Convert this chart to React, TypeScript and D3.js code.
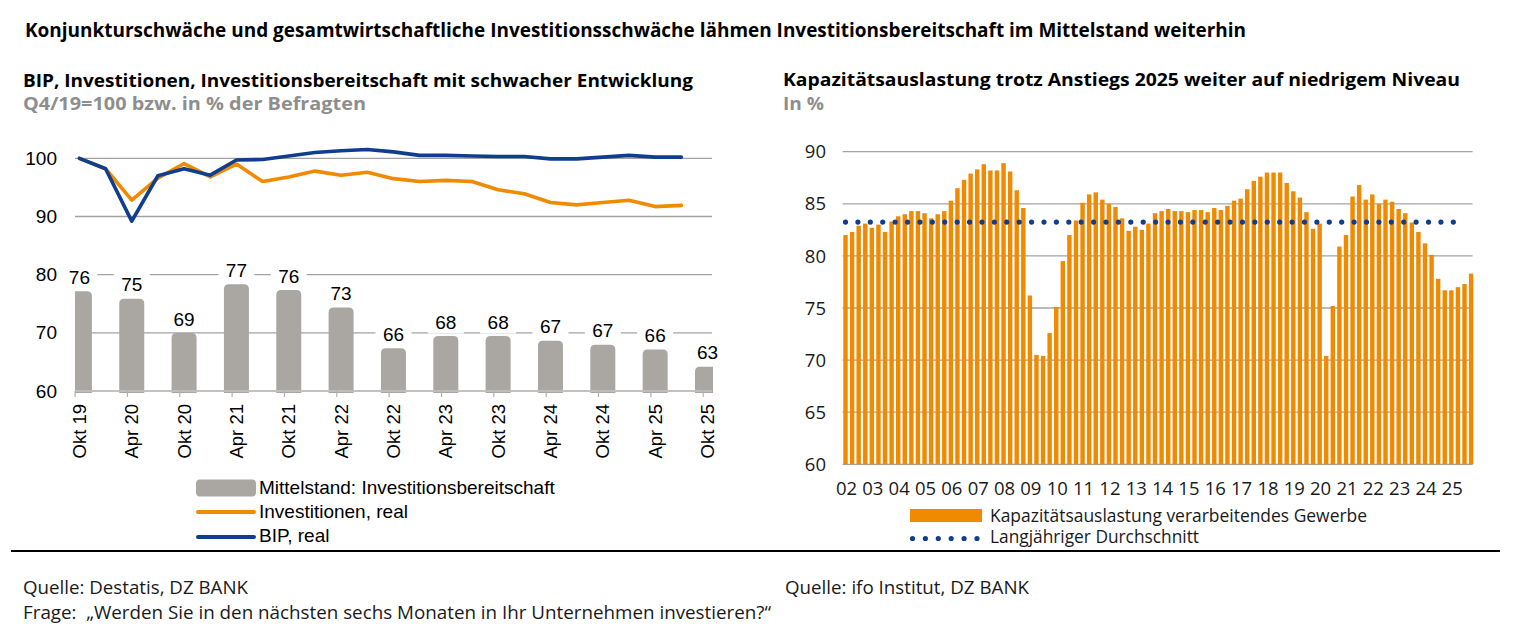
import React from 'react';
import * as d3 from 'd3';

// ---- left chart data ----
const quarterLabels = [
  'Q4/19', 'Q1/20', 'Q2/20', 'Q3/20', 'Q4/20', 'Q1/21', 'Q2/21', 'Q3/21', 'Q4/21',
  'Q1/22', 'Q2/22', 'Q3/22', 'Q4/22', 'Q1/23', 'Q2/23', 'Q3/23', 'Q4/23',
  'Q1/24', 'Q2/24', 'Q3/24', 'Q4/24', 'Q1/25', 'Q2/25', 'Q3/25', 'Q4/25',
];
const bipValues = [
  100, 98.2, 89.2, 97.0, 98.2, 97.1, 99.7, 99.8, 100.4, 101.0, 101.3, 101.5,
  101.1, 100.5, 100.5, 100.4, 100.3, 100.3, 99.9, 99.9, 100.2, 100.5, 100.2, 100.2,
];
const investValues = [
  100, 98.2, 92.8, 96.6, 99.1, 96.8, 99.0, 96.0, 96.8, 97.8, 97.1, 97.6,
  96.5, 96.0, 96.2, 96.0, 94.6, 93.9, 92.4, 92.0, 92.4, 92.8, 91.7, 91.9,
];
const barCategories = [
  'Okt 19', 'Apr 20', 'Okt 20', 'Apr 21', 'Okt 21', 'Apr 22', 'Okt 22',
  'Apr 23', 'Okt 23', 'Apr 24', 'Okt 24', 'Apr 25', 'Okt 25',
];
const barQuarters = [
  'Q4/19', 'Q2/20', 'Q4/20', 'Q2/21', 'Q4/21', 'Q2/22', 'Q4/22',
  'Q2/23', 'Q4/23', 'Q2/24', 'Q4/24', 'Q2/25', 'Q4/25',
];
const barValues = [75.9, 74.6, 68.7, 77.1, 76.1, 73.1, 66.1, 68.2, 68.2, 67.4, 66.7, 65.9, 62.9];
const leftTicks = [60, 70, 80, 90, 100];

// ---- right chart data (quarterly, Q1/02 .. Q4/25) ----
const capacityValues = [
  82.0, 82.3, 82.9, 83.1, 82.7, 83.0, 82.3, 83.3, 83.8, 84.0, 84.3, 84.3,
  84.1, 83.6, 84.0, 84.3, 85.3, 86.5, 87.3, 87.9, 88.3, 88.8, 88.2, 88.2,
  88.9, 88.1, 86.3, 84.6, 76.2, 70.5, 70.4, 72.6, 75.1, 79.5, 82.0, 83.4,
  85.1, 85.9, 86.1, 85.4, 85.0, 84.7, 83.6, 82.4, 82.8, 82.5, 83.1, 84.1,
  84.3, 84.5, 84.3, 84.3, 84.2, 84.4, 84.4, 84.2, 84.6, 84.4, 84.8, 85.3,
  85.5, 86.4, 87.2, 87.6, 88.0, 88.0, 88.0, 87.0, 86.2, 85.6, 84.2, 82.6,
  83.1, 70.4, 75.2, 80.9, 82.0, 85.7, 86.8, 85.4, 85.9, 85.0, 85.4, 85.2,
  84.5, 84.1, 83.2, 82.3, 81.2, 80.1, 77.8, 76.7, 76.7, 77.0, 77.3, 78.3,
];
const yearLabels = [
  '02', '03', '04', '05', '06', '07', '08', '09', '10', '11', '12', '13',
  '14', '15', '16', '17', '18', '19', '20', '21', '22', '23', '24', '25',
];
const averageValue = 83.25;
const averageSpan = [0, 92];
const rightTicks = [60, 65, 70, 75, 80, 85, 90];

const ORANGE = '#f08a00';
const BLUE = '#0f3e8e';
const GRAY_BAR = '#aaa6a2';
const GRID = '#a3a3a3';
const ARIAL = '"Liberation Sans", Arial, sans-serif';
const FRUT = '"Open Sans", "Noto Sans", sans-serif';

function FitText({ x, y, w, size, weight, fill, children, anchor }: any) {
  return (
    <text x={x} y={y} textLength={w} lengthAdjust="spacingAndGlyphs"
      fontFamily={FRUT} fontSize={size} fontWeight={weight || 400}
      fill={fill || '#000'} textAnchor={anchor || 'start'}>
      {children}
    </text>
  );
}

export default function App() {
  // left scales
  const xQ = d3.scalePoint<string>().domain(quarterLabels).range([79.4, 707.5]);
  const yL = d3.scaleLinear().domain([60, 100]).range([391, 158.3]);
  const yBar = d3.scaleLinear().domain([58.75, 98.75]).range([391, 158.3]);
  const lineGen = d3.line<number>()
    .x((_, i) => xQ(quarterLabels[i]) as number)
    .y(d => yL(d))
    .curve(d3.curveLinear);
  const barW = 25;
  const r = 5;
  const barPath = (cx: number, top: number, bottom: number) => {
    const x0 = cx - barW / 2, x1 = cx + barW / 2;
    return `M${x0},${bottom}V${top + r}Q${x0},${top} ${x0 + r},${top}H${x1 - r}Q${x1},${top} ${x1},${top + r}V${bottom}Z`;
  };

  // right scales
  const xR = d3.scaleBand<number>().domain(d3.range(capacityValues.length))
    .range([843.3, 1473.3]).paddingInner(0.33).paddingOuter(0);
  const bw = xR.bandwidth();
  const yR = d3.scaleLinear().domain([60, 90]).range([464.3, 151.7]);
  const avgX0 = (xR(averageSpan[0]) as number) + bw / 2;
  const avgX1 = (xR(averageSpan[1]) as number) + bw / 2 + 2;
  const avgGap = (avgX1 - avgX0) / 49;

  return (
    <svg width={1522} height={641} viewBox="0 0 1522 641"
      style={{ position: 'absolute', left: 0, top: 0, background: '#fff' }}>
      <defs>
        <clipPath id="leftClip">
          <rect x={75} y={100} width={638} height={300} />
        </clipPath>
      </defs>

      {/* titles */}
      <FitText x={25} y={37} w={1221} size={19.5} weight={700}>
        Konjunkturschwäche und gesamtwirtschaftliche Investitionsschwäche lähmen Investitionsbereitschaft im Mittelstand weiterhin
      </FitText>
      <FitText x={23} y={87} w={670} size={18.5} weight={700}>
        BIP, Investitionen, Investitionsbereitschaft mit schwacher Entwicklung
      </FitText>
      <FitText x={23} y={110} w={343} size={18.5} weight={700} fill="#8e8e8e">
        Q4/19=100 bzw. in % der Befragten
      </FitText>
      <FitText x={783} y={86} w={677} size={18.5} weight={700}>
        Kapazitätsauslastung trotz Anstiegs 2025 weiter auf niedrigem Niveau
      </FitText>
      <FitText x={783} y={110} w={41} size={18.5} weight={700} fill="#8e8e8e">
        In %
      </FitText>

      {/* ---------- left chart ---------- */}
      <g>
        {leftTicks.map(t => (
          <g key={t}>
            <line x1={75} x2={712} y1={yL(t)} y2={yL(t)} stroke={GRID} strokeWidth={1.3} />
            <text x={57} y={yL(t)} dy="0.35em" textAnchor="end" fontFamily={ARIAL} fontSize={19} fill="#000">{t}</text>
          </g>
        ))}
        <g clipPath="url(#leftClip)">
          {barValues.map((v, i) => {
            const cx = xQ(barQuarters[i]) as number;
            return <path key={i} d={barPath(cx, yBar(v), 393)} fill={GRAY_BAR} />;
          })}
        </g>
        <line x1={75} x2={712} y1={yL(60)} y2={yL(60)} stroke="#c4c4c4" strokeWidth={1.3} />
        {barQuarters.map((q, i) => {
          const tx = (xQ(q) as number) - 4.3;
          return <line key={i} x1={tx} x2={tx} y1={391} y2={397} stroke="#b0b0b0" strokeWidth={1.2} />;
        })}
        {barValues.map((v, i) => {
          const cx = xQ(barQuarters[i]) as number;
          const base = yBar(v) - 7.5;
          return (
            <g key={i}>
              <rect x={cx - 18} y={base - 19} width={36} height={24} fill="#fff" />
              <text x={cx} y={base} textAnchor="middle" fontFamily={ARIAL} fontSize={19} fill="#000">
                {d3.format('.0f')(v)}
              </text>
            </g>
          );
        })}
        <path d={lineGen(investValues) || ''} fill="none" stroke={ORANGE} strokeWidth={3.6} strokeLinejoin="round" strokeLinecap="round" />
        <path d={lineGen(bipValues) || ''} fill="none" stroke={BLUE} strokeWidth={3.6} strokeLinejoin="round" strokeLinecap="round" />
        {barCategories.map((c, i) => {
          const cx = xQ(barQuarters[i]) as number;
          return (
            <text key={c} transform={`translate(${cx},404) rotate(-90)`} dy="0.35em" textAnchor="end"
              fontFamily={ARIAL} fontSize={18.5} fill="#000">{c}</text>
          );
        })}
        {/* legend */}
        <rect x={196} y={479.5} width={60} height={17} rx={4} fill={GRAY_BAR} />
        <line x1={198} x2={254} y1={512} y2={512} stroke={ORANGE} strokeWidth={4} strokeLinecap="round" />
        <line x1={198} x2={254} y1={537} y2={537} stroke={BLUE} strokeWidth={4} strokeLinecap="round" />
        <text x={259} y={494.3} fontFamily={ARIAL} fontSize={19} fill="#000">Mittelstand: Investitionsbereitschaft</text>
        <text x={259} y={518.3} fontFamily={ARIAL} fontSize={19} fill="#000">Investitionen, real</text>
        <text x={259} y={542.3} fontFamily={ARIAL} fontSize={19} fill="#000">BIP, real</text>
      </g>

      {/* ---------- right chart ---------- */}
      <g>
        {rightTicks.map(t => (
          <g key={t}>
            <line x1={842.6} x2={1472.6} y1={yR(t)} y2={yR(t)} stroke={GRID} strokeWidth={1.3} />
            <text x={826} y={yR(t)} dy="0.36em" textAnchor="end" fontFamily={FRUT} fontSize={18.5} fill="#1a1a1a">{t}</text>
          </g>
        ))}
        {capacityValues.map((v, i) => (
          <rect key={i} x={xR(i)} y={yR(v)} width={bw} height={yR(60) - yR(v)} fill={ORANGE} />
        ))}
        <line x1={avgX0} x2={avgX1} y1={yR(averageValue)} y2={yR(averageValue)} stroke={BLUE}
          strokeWidth={5.2} strokeLinecap="round" strokeDasharray={`0 ${avgGap}`} />
        {yearLabels.map((y, k) => (
          <text key={y} x={(xR(k * 4) as number) + bw / 2 + 1} y={495} textAnchor="middle"
            fontFamily={FRUT} fontSize={18.5} fill="#1a1a1a">{y}</text>
        ))}
        {/* legend */}
        <rect x={910} y={509} width={72} height={13} fill={ORANGE} />
        <line x1={912.5} x2={977} y1={538.5} y2={538.5} stroke={BLUE} strokeWidth={5.2}
          strokeLinecap="round" strokeDasharray="0 12.9" />
        <FitText x={990} y={521.5} w={377} size={18} fill="#1a1a1a">Kapazitätsauslastung verarbeitendes Gewerbe</FitText>
        <FitText x={990} y={543} w={209} size={18} fill="#1a1a1a">Langjähriger Durchschnitt</FitText>
      </g>

      {/* separator + sources */}
      <line x1={11} x2={1500} y1={551} y2={551} stroke="#000" strokeWidth={2} />
      <FitText x={23} y={594} w={225} size={19} fill="#1a1a1a">Quelle: Destatis, DZ BANK</FitText>
      <FitText x={23} y={619} w={748} size={19} fill="#1a1a1a">
        {'Frage:\u00a0 „Werden Sie in den nächsten sechs Monaten in Ihr Unternehmen investieren?“'}
      </FitText>
      <FitText x={785} y={594} w={244} size={19} fill="#1a1a1a">Quelle: ifo Institut, DZ BANK</FitText>
    </svg>
  );
}
